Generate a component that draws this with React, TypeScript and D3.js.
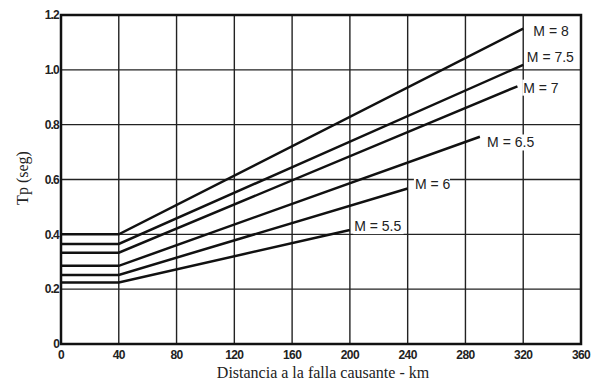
import React from "react";
import * as d3 from "d3";

const W = 594;
const H = 388;
const margin = { left: 61, right: 13, top: 15, bottom: 44 };

const xTicks = [0, 40, 80, 120, 160, 200, 240, 280, 320, 360];
const yTicks = [0, 0.2, 0.4, 0.6, 0.8, 1.0, 1.2];
const yTickLabels = ["0", "0.2", "0.4", "0.6", "0.8", "1.0", "1.2"];

const magnitudes = ["M = 8", "M = 7.5", "M = 7", "M = 6.5", "M = 6", "M = 5.5"];
const plateauValues = [0.4, 0.365, 0.333, 0.285, 0.252, 0.224];
const endDistances = [320, 320, 316, 290, 240, 200];
const endValues = [1.15, 1.018, 0.94, 0.756, 0.567, 0.416];
const breakDistance = 40;

// label anchor positions (left x, centre y in data units)
const labelX = [327, 322.5, 320, 295, 245, 203];
const labelY = [1.143, 1.045, 0.935, 0.735, 0.585, 0.43];

export default function App() {
  const x = d3.scaleLinear().domain([0, 360]).range([margin.left, W - margin.right]);
  const y = d3.scaleLinear().domain([0, 1.2]).range([H - margin.bottom, margin.top]);
  const line = d3
    .line<[number, number]>()
    .x((d) => x(d[0]))
    .y((d) => y(d[1]));

  const series = magnitudes.map((m, i) => ({
    name: m,
    pts: [
      [0, plateauValues[i]],
      [breakDistance, plateauValues[i]],
      [endDistances[i], endValues[i]],
    ] as [number, number][],
  }));

  return (
    <div style={{ position: "fixed", left: 0, top: 0 }}>
      <svg width={W} height={H} style={{ display: "block", background: "#fff" }}>
        {/* grid */}
        {xTicks.map((t) => (
          <line key={"gx" + t} x1={x(t)} x2={x(t)} y1={y(0)} y2={y(1.2)} stroke="#222" strokeWidth={1.4} />
        ))}
        {yTicks.map((t) => (
          <line key={"gy" + t} x1={x(0)} x2={x(360)} y1={y(t)} y2={y(t)} stroke="#222" strokeWidth={1.4} />
        ))}
        <rect
          x={x(0)}
          y={y(1.2)}
          width={x(360) - x(0)}
          height={y(0) - y(1.2)}
          fill="none"
          stroke="#111"
          strokeWidth={2.5}
        />
        {/* series */}
        {series.map((s) => (
          <path key={s.name} d={line(s.pts) || ""} fill="none" stroke="#111" strokeWidth={2.5} />
        ))}
        {/* labels */}
        {magnitudes.map((m, i) => (
          <g key={"l" + m}>
            <rect
              x={x(labelX[i]) - 1}
              y={y(labelY[i]) - 8}
              width={m.length * 7.2}
              height={16}
              fill="#fff"
            />
            <text
              x={x(labelX[i])}
              y={y(labelY[i])}
              dy="0.35em"
              fontFamily="Liberation Sans, Arial, sans-serif"
              fontSize={14}
              fill="#222"
            >
              {m}
            </text>
          </g>
        ))}
        {/* tick labels */}
        {xTicks.map((t) => (
          <text
            key={"tx" + t}
            x={x(t)}
            y={y(0) + 15}
            textAnchor="middle"
            fontFamily="Liberation Sans, Arial, sans-serif"
            fontSize={12}
            fontWeight="bold"
            letterSpacing={-0.6}
            fill="#222"
          >
            {t}
          </text>
        ))}
        {yTicks.map((t, i) => (
          <text
            key={"ty" + t}
            x={x(0) - 2}
            y={y(t)}
            dy="0.35em"
            textAnchor="end"
            fontFamily="Liberation Sans, Arial, sans-serif"
            fontSize={12}
            fontWeight="bold"
            letterSpacing={-0.8}
            fill="#222"
          >
            {yTickLabels[i]}
          </text>
        ))}
        {/* axis titles */}
        <text
          x={(x(0) + x(360)) / 2 + 2}
          y={H - 10}
          textAnchor="middle"
          fontFamily="Liberation Serif, Times New Roman, serif"
          fontSize={16}
          fill="#222"
        >
          Distancia a la falla causante - km
        </text>
        <text
          transform={`translate(${28},${178}) rotate(-90)`}
          textAnchor="middle"
          fontFamily="Liberation Serif, Times New Roman, serif"
          fontSize={16}
          fill="#222"
        >
          Tp (seg)
        </text>
      </svg>
    </div>
  );
}
